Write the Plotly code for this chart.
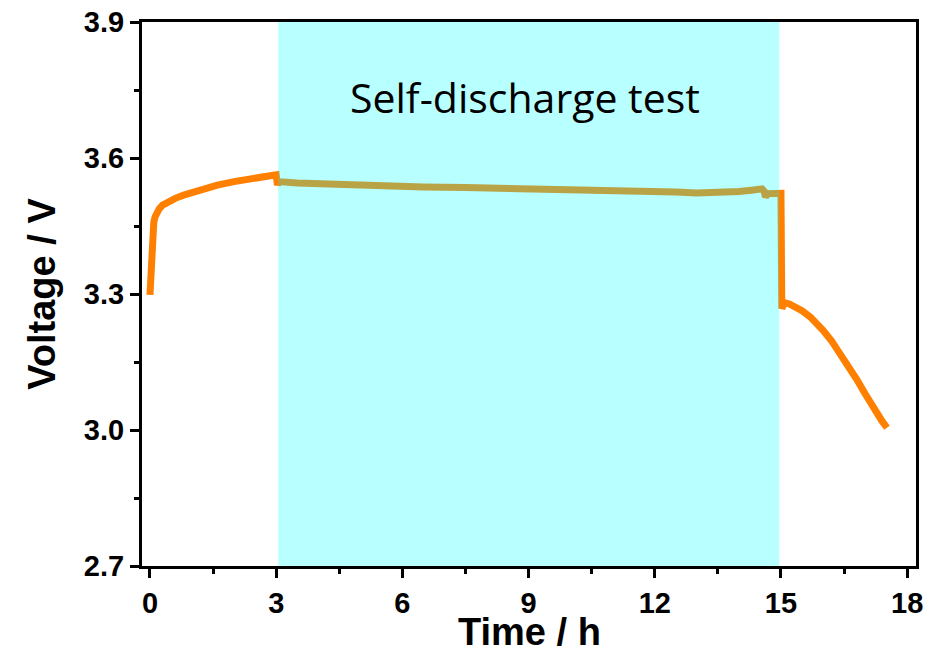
import plotly.graph_objects as go

# Charge step (h, V)
charge_t = [0.0, 0.02, 0.04, 0.06, 0.09, 0.12, 0.16, 0.22, 0.3, 0.45, 0.6, 0.8, 1.0,
            1.3, 1.6, 2.0, 2.4, 2.8, 3.0]
charge_v = [3.298, 3.36, 3.41, 3.44, 3.458, 3.47, 3.48, 3.488, 3.496, 3.505, 3.511,
            3.518, 3.524, 3.532, 3.540, 3.548, 3.554, 3.559, 3.563]

# Open-circuit rest (self-discharge)
rest_t = [3.03, 3.06, 3.5, 4.5, 5.5, 6.5, 7.5, 8.2, 8.3, 9.0, 9.6, 10.0, 10.5, 11.0,
          11.5, 12.0, 12.5, 13.0, 13.5, 14.0, 14.3, 14.55, 14.6, 14.63, 14.68, 14.8, 14.98]
rest_v = [3.540, 3.548, 3.545, 3.541, 3.538, 3.536, 3.535, 3.534, 3.531, 3.530, 3.531,
          3.529, 3.530, 3.528, 3.528, 3.527, 3.525, 3.523, 3.523, 3.526, 3.529, 3.532,
          3.527, 3.514, 3.521, 3.521, 3.522]

# Discharge step
discharge_t = [15.0, 15.02, 15.08, 15.2, 15.35, 15.5, 15.7, 15.85, 16.0, 16.2, 16.4,
               16.6, 16.8, 17.0, 17.2, 17.4, 17.52]
discharge_v = [3.522, 3.268, 3.281, 3.278, 3.272, 3.263, 3.249, 3.236, 3.220, 3.197,
               3.170, 3.142, 3.112, 3.080, 3.048, 3.020, 3.005]

test_window = [3.05, 14.96]
annotation_text = "Self-discharge test"
x_title = "Time / h"
y_title = "Voltage / V"

x_ticks = [0, 3, 6, 9, 12, 15, 18]
y_ticks = [2.7, 3.0, 3.3, 3.6, 3.9]

time = charge_t + rest_t + discharge_t
voltage = charge_v + rest_v + discharge_v

fig = go.Figure()
fig.add_trace(go.Scatter(
    x=time, y=voltage, mode="lines",
    line=dict(color="#FF8000", width=7),
    showlegend=False, hoverinfo="skip",
))

# translucent cyan band laid over the curve and the frame
fig.add_shape(
    type="rect", xref="x", yref="paper",
    x0=test_window[0], x1=test_window[1], y0=0, y1=1,
    fillcolor="rgb(0,255,255)", opacity=0.28, line=dict(width=0),
    layer="above",
)

fig.add_annotation(
    x=8.92, y=3.735, xref="x", yref="y", text=annotation_text,
    showarrow=False, font=dict(family="Open Sans", size=41, color="black"),
)

# x-axis title placed under the tick labels
fig.add_annotation(
    x=0.5, y=-0.162, xref="paper", yref="paper", text=f"<b>{x_title}</b>",
    showarrow=False, yanchor="bottom", xanchor="center", borderpad=0,
    font=dict(family="Arial, Liberation Sans", size=38, color="black"),
)

axis_common = dict(
    showline=True, linecolor="black", linewidth=3, mirror=True,
    ticks="outside", tickcolor="black", tickwidth=3, ticklen=9,
    showgrid=False, zeroline=False, automargin=False,
    tickfont=dict(family="Arial, Liberation Sans", size=29, color="black"),
)

fig.update_xaxes(
    range=[-0.19, 18.21], tickvals=x_ticks,
    ticktext=[f"<b>{v}</b>" for v in x_ticks],
    minor=dict(ticks="outside", dtick=1.5, tick0=0, ticklen=5, tickwidth=3,
               tickcolor="black"),
    **axis_common,
)
fig.update_yaxes(
    range=[2.7, 3.9], tickvals=y_ticks,
    ticktext=[f"<b>{v:.1f}</b>" for v in y_ticks],
    minor=dict(ticks="outside", dtick=0.15, tick0=2.7, ticklen=5, tickwidth=3,
               tickcolor="black"),
    title=dict(text=f"<b>{y_title}</b>", standoff=17,
               font=dict(family="Arial, Liberation Sans", size=38, color="black")),
    **axis_common,
)

fig.update_layout(
    width=934, height=656,
    margin=dict(l=142, r=18, t=22, b=90),
    paper_bgcolor="white", plot_bgcolor="white",
    font=dict(family="Arial, Liberation Sans", color="black"),
)

fig.write_html("out.html")
